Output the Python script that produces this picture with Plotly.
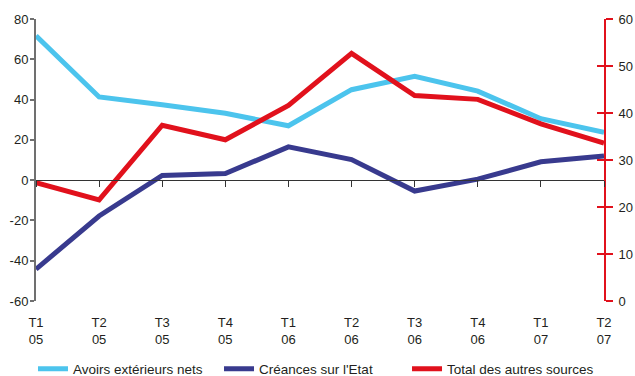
import plotly.graph_objects as go

# Quarterly categories (quarter / year)
quarters = ["T1", "T2", "T3", "T4", "T1", "T2", "T3", "T4", "T1", "T2"]
years = ["05", "05", "05", "05", "06", "06", "06", "06", "07", "07"]
categories = [f"{q}<br>{y}" for q, y in zip(quarters, years)]

# Series values
avoirs_ext = [71.7, 41.3, 37.4, 33.2, 27.0, 44.9, 51.5, 44.2, 30.5, 23.8]      # left axis
creances_etat = [-44.2, -17.8, 2.3, 3.3, 16.5, 10.2, -5.4, 0.5, 9.1, 12.0]      # left axis
autres_sources = [25.2, 21.5, 37.4, 34.3, 41.6, 52.7, 43.7, 42.9, 37.7, 33.6]   # right axis

# Axis tick values
left_ticks = [-60, -40, -20, 0, 20, 40, 60, 80]
left_labels = [str(v) for v in left_ticks]
right_ticks = [0, 10, 20, 30, 40, 50, 60]

LIGHT_BLUE = "#4cc4ed"
DARK_BLUE = "#383a8e"
RED = "#e1111c"
GREY = "#707070"
TEXT = "#231f20"
FONT = "Liberation Sans, Arial, sans-serif"

x_idx = list(range(len(categories)))

fig = go.Figure()
# invisible carriers so the helper axes get drawn
fig.add_trace(go.Scatter(x=x_idx, y=creances_etat, mode="lines", xaxis="x2", yaxis="y",
                         line=dict(width=0), opacity=0, showlegend=False, hoverinfo="skip"))
fig.add_trace(go.Scatter(x=x_idx, y=autres_sources, mode="lines", xaxis="x", yaxis="y3",
                         line=dict(width=0), opacity=0, showlegend=False, hoverinfo="skip"))
fig.add_trace(go.Scatter(x=x_idx, y=avoirs_ext, mode="lines", name="Avoirs extérieurs nets",
                         line=dict(color=LIGHT_BLUE, width=5), yaxis="y", legend="legend"))
fig.add_trace(go.Scatter(x=x_idx, y=creances_etat, mode="lines", name="Créances sur l'Etat",
                         line=dict(color=DARK_BLUE, width=5), yaxis="y", legend="legend2"))
fig.add_trace(go.Scatter(x=x_idx, y=autres_sources, mode="lines", name="Total des autres sources",
                         line=dict(color=RED, width=5), yaxis="y2", legend="legend3"))

legend_style = dict(orientation="h", xanchor="left", y=-0.241, yanchor="middle", itemwidth=30,
                    font=dict(family=FONT, size=13.5, color=TEXT), bgcolor="rgba(0,0,0,0)")

fig.update_layout(
    width=635, height=376,
    margin=dict(l=36, r=31, t=19, b=75, autoexpand=False),
    paper_bgcolor="white", plot_bgcolor="white",
    font=dict(family=FONT, size=13, color=TEXT),
    showlegend=True,
    legend=dict(x=-0.0053, **legend_style),
    legend2=dict(x=0.3222, **legend_style),
    legend3=dict(x=0.6532, **legend_style),
    xaxis=dict(range=[0, 9], tickmode="array", tickvals=x_idx, ticktext=categories,
               showgrid=False, zeroline=False, showline=False, ticks="",
               ticklabelstandoff=12, tickfont=dict(size=13)),
    # zero line with category tick marks
    xaxis2=dict(range=[0, 9], overlaying="x", anchor="free", position=60 / 140,
                tickmode="array", tickvals=x_idx, showticklabels=False,
                ticks="outside", ticklen=6, tickcolor="#333333", tickwidth=1,
                showline=True, linecolor="#333333", linewidth=1,
                showgrid=False, zeroline=False),
    yaxis=dict(range=[-60, 80], tickmode="array", tickvals=left_ticks, ticktext=left_labels,
               showgrid=False, zeroline=False, showline=True, linecolor=GREY, linewidth=2,
               ticks="outside", ticklen=4, tickcolor=GREY, tickwidth=1.5,
               ticklabelstandoff=-1, tickfont=dict(size=13)),
    yaxis2=dict(range=[0, 60], overlaying="y", side="right", tickmode="array",
                tickvals=right_ticks, showgrid=False, zeroline=False,
                showline=True, linecolor=RED, linewidth=2,
                ticks="outside", ticklen=7, tickcolor=RED, tickwidth=2,
                ticklabelstandoff=3, tickfont=dict(size=13)),
    # inner half of the crossing ticks on the right axis
    yaxis3=dict(range=[0, 60], overlaying="y", side="right", anchor="x", tickmode="array",
                tickvals=right_ticks, showticklabels=False, showgrid=False, zeroline=False,
                showline=False, ticks="inside", ticklen=7, tickcolor=RED, tickwidth=2),
)

fig.write_html("out.html")
